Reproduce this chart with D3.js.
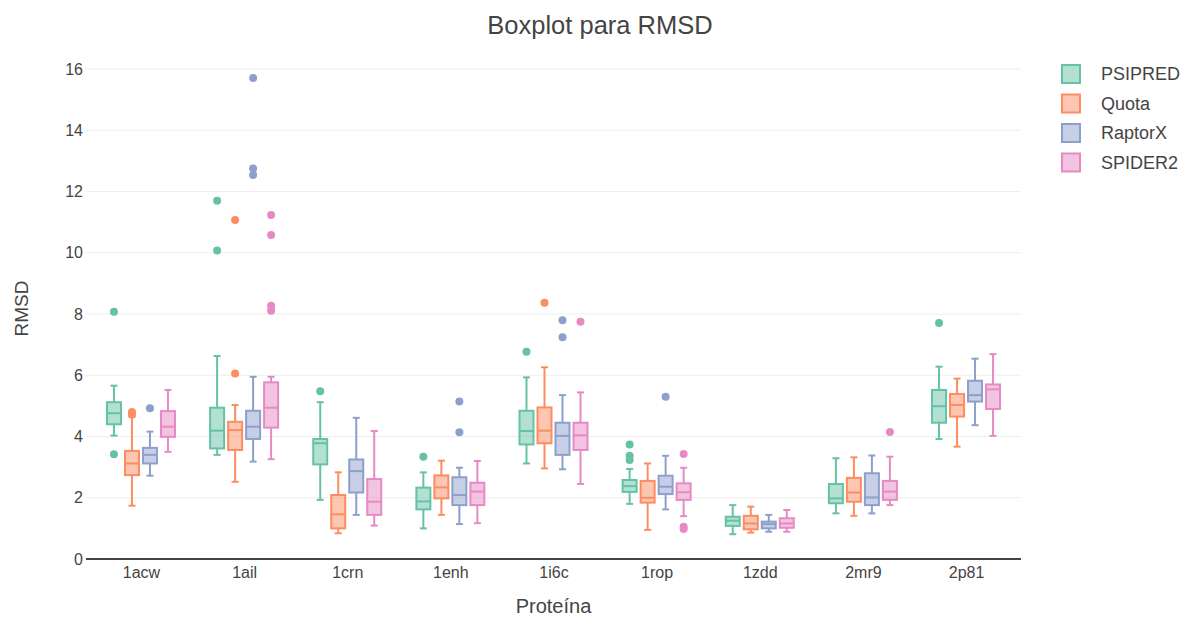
<!DOCTYPE html>
<html>
<head>
<meta charset="utf-8">
<script src="https://cdn.jsdelivr.net/npm/d3@7"></script>
<style>
  html, body { margin: 0; padding: 0; background: #fff; }
  svg { display: block; font-family: "Liberation Sans", Arial, sans-serif; }
</style>
</head>
<body>
<svg id="chart" width="1182" height="617"></svg>
<script>
// ---- data ----
const categories = ["1acw", "1ail", "1crn", "1enh", "1i6c", "1rop", "1zdd", "2mr9", "2p81"];
const seriesNames = ["PSIPRED", "Quota", "RaptorX", "SPIDER2"];
const seriesColors = ["#66c2a5", "#fc8d62", "#8da0cb", "#e78ac3"];
const yTicks = [0, 2, 4, 6, 8, 10, 12, 14, 16];

// [lower whisker, q1, median, q3, upper whisker] per category
const psipredStats = [
  [4.03, 4.40, 4.76, 5.12, 5.66], [3.40, 3.61, 4.19, 4.94, 6.63], [1.93, 3.09, 3.78, 3.92, 5.12],
  [1.00, 1.62, 1.88, 2.33, 2.83], [3.12, 3.74, 4.18, 4.84, 5.93], [1.80, 2.19, 2.38, 2.58, 2.94],
  [0.81, 1.08, 1.25, 1.38, 1.76], [1.49, 1.82, 1.98, 2.45, 3.29], [3.92, 4.45, 4.99, 5.52, 6.28]
];
const psipredOutliers = [[8.07, 3.42], [11.70, 10.07], [5.48], [3.34], [6.77], [3.74, 3.37, 3.23], [], [], [7.71]];

const quotaStats = [
  [1.74, 2.74, 3.12, 3.53, 4.65], [2.52, 3.56, 4.21, 4.48, 5.03], [0.84, 1.00, 1.46, 2.09, 2.83],
  [1.44, 1.98, 2.34, 2.73, 3.21], [2.96, 3.78, 4.19, 4.95, 6.26], [0.95, 1.84, 2.00, 2.55, 3.12],
  [0.86, 0.97, 1.16, 1.41, 1.71], [1.41, 1.87, 2.17, 2.65, 3.32], [3.67, 4.65, 5.03, 5.39, 5.89]
];
const quotaOutliers = [[4.80, 4.72], [11.07, 6.06], [], [], [8.37], [], [], [], []];

const raptorxStats = [
  [2.72, 3.12, 3.40, 3.63, 4.16], [3.18, 3.92, 4.32, 4.84, 5.95], [1.44, 2.17, 2.87, 3.25, 4.61],
  [1.14, 1.76, 2.09, 2.67, 2.98], [2.93, 3.40, 4.02, 4.45, 5.35], [1.62, 2.12, 2.36, 2.72, 3.37],
  [0.89, 1.00, 1.14, 1.22, 1.44], [1.49, 1.76, 2.01, 2.80, 3.38], [4.37, 5.14, 5.35, 5.82, 6.54]
];
const raptorxOutliers = [[4.92], [15.71, 12.75, 12.54], [], [5.14, 4.14], [7.80, 7.24], [5.30], [], [], []];

const spider2Stats = [
  [3.50, 3.99, 4.32, 4.83, 5.52], [3.26, 4.29, 4.94, 5.77, 5.95], [1.09, 1.44, 1.87, 2.61, 4.18],
  [1.17, 1.76, 2.20, 2.49, 3.20], [2.45, 3.56, 4.04, 4.45, 5.44], [1.40, 1.93, 2.18, 2.47, 2.98],
  [0.89, 1.02, 1.16, 1.33, 1.60], [1.76, 1.93, 2.20, 2.55, 3.34], [4.02, 4.90, 5.54, 5.70, 6.69]
];
const spider2Outliers = [[], [11.23, 10.58, 8.27, 8.11], [], [], [7.75], [3.43, 1.05, 0.98], [], [4.15], []];

const allStats = [psipredStats, quotaStats, raptorxStats, spider2Stats];
const allOutliers = [psipredOutliers, quotaOutliers, raptorxOutliers, spider2Outliers];

// ---- layout ----
const svg = d3.select("#chart");
const plot = { left: 86, right: 1021, top: 58, bottom: 559 };

const x = d3.scalePoint().domain(categories).range([89.4, 1017.6]).padding(0.5);
const xs = d3.scaleBand().domain(seriesNames).range([-36, 36]).paddingInner(0);
const boxW = 14;
const y = d3.scaleLinear().domain([0, 16]).range([559, 69]);

// grid
svg.append("g").selectAll("line").data(yTicks.filter(d => d !== 0)).join("line")
  .attr("x1", plot.left).attr("x2", plot.right)
  .attr("y1", d => y(d)).attr("y2", d => y(d))
  .attr("stroke", "#eeeeee").attr("stroke-width", 1);

// y axis labels
const yAxis = d3.axisLeft(y).tickValues(yTicks).tickSize(0).tickPadding(0);
const gy = svg.append("g").attr("transform", `translate(${plot.left - 3},0)`).call(yAxis);
gy.select(".domain").remove();
gy.selectAll("text").attr("fill", "#444").attr("font-size", 16).attr("font-family", "Liberation Sans, Arial, sans-serif");

// x axis labels
const xAxis = d3.axisBottom(x).tickSize(0).tickPadding(0);
const gx = svg.append("g").attr("transform", `translate(0,${plot.bottom + 8})`).call(xAxis);
gx.select(".domain").remove();
gx.selectAll("text").attr("fill", "#444").attr("font-size", 16).attr("font-family", "Liberation Sans, Arial, sans-serif");

// zero line
svg.append("line")
  .attr("x1", plot.left).attr("x2", plot.right)
  .attr("y1", y(0)).attr("y2", y(0))
  .attr("stroke", "#444").attr("stroke-width", 2);

// boxes
seriesNames.forEach((name, si) => {
  const color = seriesColors[si];
  const g = svg.append("g").attr("class", "series-" + name);
  categories.forEach((cat, ci) => {
    const [lw, q1, med, q3, uw] = allStats[si][ci];
    const cx = x(cat) + xs(name) + xs.bandwidth() / 2;
    const capW = boxW / 2;
    // whiskers
    g.append("line").attr("x1", cx).attr("x2", cx).attr("y1", y(q3)).attr("y2", y(uw))
      .attr("stroke", color).attr("stroke-width", 2);
    g.append("line").attr("x1", cx).attr("x2", cx).attr("y1", y(q1)).attr("y2", y(lw))
      .attr("stroke", color).attr("stroke-width", 2);
    g.append("line").attr("x1", cx - capW / 2).attr("x2", cx + capW / 2).attr("y1", y(uw)).attr("y2", y(uw))
      .attr("stroke", color).attr("stroke-width", 2);
    g.append("line").attr("x1", cx - capW / 2).attr("x2", cx + capW / 2).attr("y1", y(lw)).attr("y2", y(lw))
      .attr("stroke", color).attr("stroke-width", 2);
    // box
    g.append("rect").attr("x", cx - boxW / 2).attr("width", boxW)
      .attr("y", y(q3)).attr("height", y(q1) - y(q3))
      .attr("fill", color).attr("fill-opacity", 0.5)
      .attr("stroke", color).attr("stroke-width", 2);
    // median
    g.append("line").attr("x1", cx - boxW / 2).attr("x2", cx + boxW / 2).attr("y1", y(med)).attr("y2", y(med))
      .attr("stroke", color).attr("stroke-width", 2);
    // outliers
    g.selectAll(null).data(allOutliers[si][ci]).join("circle")
      .attr("cx", cx).attr("cy", d => y(d)).attr("r", 4)
      .attr("fill", color);
  });
});

// title
svg.append("text").attr("x", 600).attr("y", 34).attr("text-anchor", "middle")
  .attr("font-size", 25.5).attr("fill", "#444").text("Boxplot para RMSD");

// axis titles
svg.append("text").attr("x", (plot.left + plot.right) / 2).attr("y", 613).attr("text-anchor", "middle")
  .attr("font-size", 20).attr("fill", "#444").text("Proteína");
svg.append("text").attr("transform", `translate(28,${(plot.top + plot.bottom) / 2}) rotate(-90)`)
  .attr("text-anchor", "middle").attr("font-size", 19).attr("fill", "#444").text("RMSD");

// legend
const legend = svg.append("g").attr("transform", "translate(1061,64)");
seriesNames.forEach((name, i) => {
  const row = legend.append("g").attr("transform", `translate(0,${i * 29.5})`);
  row.append("rect").attr("x", 1).attr("y", 1).attr("width", 18).attr("height", 18)
    .attr("fill", seriesColors[i]).attr("fill-opacity", 0.5)
    .attr("stroke", seriesColors[i]).attr("stroke-width", 2);
  row.append("text").attr("x", 40).attr("y", 16).attr("font-size", 18).attr("fill", "#444").text(name);
});
</script>
</body>
</html>
